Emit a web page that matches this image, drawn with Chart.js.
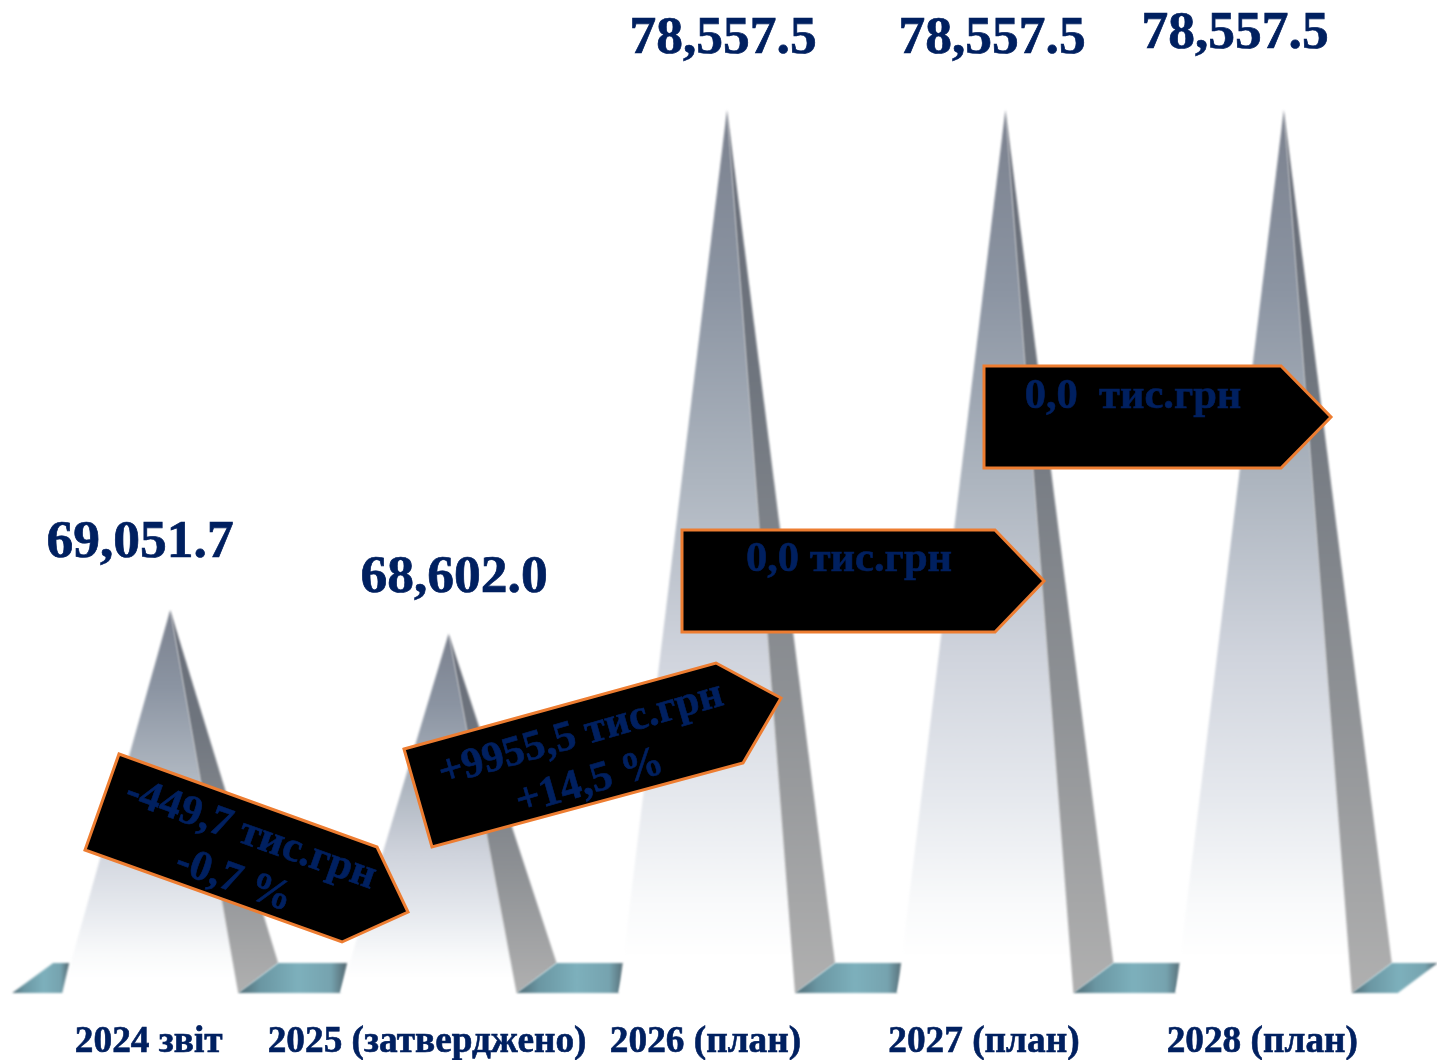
<!DOCTYPE html>
<html lang="uk">
<head>
<meta charset="utf-8">
<title>Chart</title>
<style>html,body{margin:0;padding:0;background:#fff}canvas{display:block}</style>
<script src="https://cdn.jsdelivr.net/npm/chart.js@4/dist/chart.umd.min.js"></script>
</head>
<body>
<canvas id="c" width="1437" height="1060"></canvas>
<script>
const categories = ['2024 звіт', '2025 (затверджено)', '2026 (план)', '2027 (план)', '2028 (план)'];
const values = [69051.7, 68602.0, 78557.5, 78557.5, 78557.5];
const changeLabels = [
  ['-449,7 тис.грн', '-0,7 %'],
  ['+9955,5 тис.грн', '+14,5 %'],
  ['0,0 тис.грн'],
  ['0,0  тис.грн']
];

const Y_MIN = 61770.2, Y_MAX = 80648.9;
const INK = '#002060';
const FONT = '"Liberation Serif", serif';
const valueLabelPos = [[140, 557], [454, 592], [723, 53], [992, 53], [1235, 48]];
const arrowShapes = [
  [[119,754],[377,847],[408,912],[342,942],[85,850]],
  [[404,749],[716,663],[781,698],[743,763],[432,847]],
  [[682,530],[995,530],[1044,581],[995,632],[682,632]],
  [[984,366],[1281,366],[1331,417],[1281,468],[984,468]]
];
const arrowText = [
  {rot: 19.6,  lines: [[247,845],[230,891]]},
  {rot: -16,   lines: [[584,745],[593,793]]},
  {rot: 0,     lines: [[849,571]]},
  {rot: 0,     lines: [[1133,408]]}
];

function poly(ctx, pts){
  ctx.beginPath();
  pts.forEach((p,i)=> i ? ctx.lineTo(p[0],p[1]) : ctx.moveTo(p[0],p[1]));
  ctx.closePath();
}
function floorGradient(ctx, x0, x1){
  const g = ctx.createLinearGradient(x0,0,x1,0);
  g.addColorStop(0,'#4f6b75');
  g.addColorStop(0.2,'#6a96a2');
  g.addColorStop(0.55,'#7db0bc');
  g.addColorStop(0.85,'#76a3af');
  g.addColorStop(1,'#536770');
  return g;
}

const pyramidPlugin = {
  id: 'pyramids',
  afterDatasetsDraw(chart){
    const ctx = chart.ctx;
    const bars = chart.getDatasetMeta(0).data;
    ctx.save();
    ctx.filter = 'blur(0.8px)';
    bars.forEach((bar,i)=>{
      const ax = bar.x, ay = bar.y, by = bar.base, ty = by - 30;
      const ridge = [ax + 68, by], corner = [ax + 108, ty], left = [ax - 108, by];
      // front face
      const f = ctx.createLinearGradient(0, ay, 0, by);
      f.addColorStop(0,'#7b818e');
      f.addColorStop(0.2,'#8b94a2');
      f.addColorStop(0.42,'#adb5bf');
      f.addColorStop(0.62,'#d0d4dd');
      f.addColorStop(0.78,'#e6e9ee');
      f.addColorStop(0.9,'#f9fafb');
      f.addColorStop(0.96,'#ffffff');
      f.addColorStop(1,'#ffffff');
      poly(ctx,[[ax,ay],ridge,left]);
      ctx.fillStyle = f; ctx.fill();
      // shaded side
      const s = ctx.createLinearGradient(0, ay, 0, by);
      s.addColorStop(0,'#686d78');
      s.addColorStop(0.3,'#6f757e');
      s.addColorStop(0.65,'#8d9094');
      s.addColorStop(1,'#b0b0b0');
      poly(ctx,[[ax,ay],corner,ridge]);
      ctx.fillStyle = s; ctx.fill();
      // floor to the right
      const last = i === bars.length - 1;
      const fl = last
        ? [ridge, corner, [ax + 154, ty], [ax + 114, by]]
        : [ridge, corner, [ax + 177, ty], [ax + 170, by]];
      poly(ctx, fl);
      ctx.fillStyle = floorGradient(ctx, ax + 68, ax + (last ? 154 : 177)); ctx.fill();
      // floor sliver on the left of the first pyramid
      if (i === 0){
        poly(ctx,[[ax - 158, by],[ax - 117, ty],[ax - 101, ty],[ax - 108, by]]);
        ctx.fillStyle = floorGradient(ctx, ax - 158, ax - 101); ctx.fill();
      }
    });
    ctx.restore();

    // value labels
    ctx.save();
    ctx.font = 'bold 53.5px ' + FONT;
    ctx.fillStyle = INK;
    ctx.strokeStyle = INK;
    ctx.lineWidth = 0.7;
    ctx.textAlign = 'center';
    ctx.textBaseline = 'alphabetic';
    values.forEach((v,i)=>{
      const t = v.toLocaleString('en-US',{minimumFractionDigits:1,maximumFractionDigits:1});
      ctx.fillText(t, valueLabelPos[i][0], valueLabelPos[i][1]);
      ctx.strokeText(t, valueLabelPos[i][0], valueLabelPos[i][1]);
    });
    ctx.restore();

    // change arrows
    arrowShapes.forEach((pts,i)=>{
      ctx.save();
      poly(ctx, pts);
      ctx.fillStyle = '#000';
      ctx.fill();
      ctx.lineWidth = 3;
      ctx.lineJoin = 'miter';
      ctx.strokeStyle = '#ed7d31';
      ctx.stroke();
      ctx.restore();
      const a = arrowText[i];
      changeLabels[i].forEach((line,j)=>{
        ctx.save();
        ctx.translate(a.lines[j][0], a.lines[j][1]);
        ctx.rotate(a.rot * Math.PI / 180);
        ctx.font = 'bold 42.5px ' + FONT;
        ctx.fillStyle = INK;
        ctx.strokeStyle = INK;
        ctx.lineWidth = 0.6;
        ctx.textAlign = 'center';
        ctx.textBaseline = 'alphabetic';
        ctx.fillText(line, 0, 0);
        ctx.strokeText(line, 0, 0);
        ctx.restore();
      });
    });
  }
};

new Chart(document.getElementById('c'), {
  type: 'bar',
  data: {
    labels: categories,
    datasets: [{ data: values, base: Y_MIN, backgroundColor: 'rgba(0,0,0,0)', borderWidth: 0, barPercentage: 0.78, categoryPercentage: 1 }]
  },
  options: {
    responsive: false,
    animation: false,
    layout: { padding: { left: 31, right: 14, top: 0, bottom: 0 } },
    plugins: { legend: { display: false }, title: { display: false }, tooltip: { enabled: false } },
    scales: {
      x: {
        grid: { display: false },
        border: { display: false },
        afterFit(s){ s.height = 67; },
        ticks: {
          autoSkip: false, maxRotation: 0, minRotation: 0,
          color: INK, padding: 19, labelOffset: -21.5,
          textStrokeColor: INK, textStrokeWidth: 0.6,
          font: { family: FONT, size: 37.3, weight: 'bold' }
        }
      },
      y: { display: false, min: Y_MIN, max: Y_MAX }
    }
  },
  plugins: [pyramidPlugin]
});
</script>
</body>
</html>
